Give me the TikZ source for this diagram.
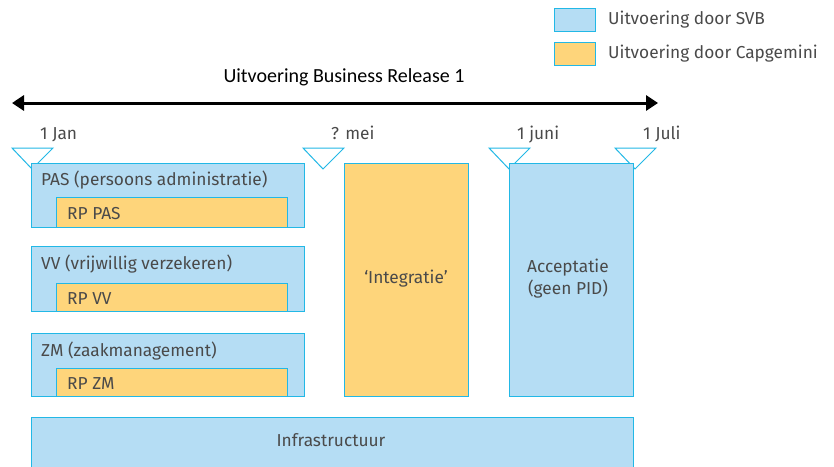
\documentclass[tikz,border=0pt]{standalone}
\usepackage{fontspec}
\setmainfont{Fira Sans}
\newfontfamily\titelfont{Carlito}
\usetikzlibrary{positioning,arrows.meta,calc}

\definecolor{svbblauw}{HTML}{B5DDF4}
\definecolor{svbrand}{HTML}{22B8E6}
\definecolor{cgoranje}{HTML}{FED57B}
\definecolor{tekstgrijs}{HTML}{4A4A4A}

\tikzset{
	svbbox/.style={draw=svbrand,fill=svbblauw,line width=1pt,inner sep=0pt,anchor=north west},
	cgbox/.style={draw=svbrand,fill=cgoranje,line width=1pt,inner sep=0pt,anchor=north west},
	lbl/.style={text=tekstgrijs,font=\fontsize{17.3}{22}\selectfont,inner sep=0pt},
	mijlpaal/.style={draw=svbrand,fill=white,line width=1pt,line join=miter},
}

\begin{document}
\begin{tikzpicture}[x=1pt,y=-1pt]
		\clip (0,0) rectangle (834,466);
		% legenda
		\node[svbbox,minimum width=41pt,minimum height=23pt] (legsvb) at (554,8) {};
		\node[cgbox,minimum width=41pt,minimum height=23pt] (legcg) at (554,42) {};
		\node[lbl,anchor=west,right=12pt of legsvb] (legsvbtxt) {Uitvoering door SVB};
		\node[lbl,anchor=west,right=12pt of legcg] (legcgtxt) {Uitvoering door Capgemini};
		
		% doorlooptijd
		\node[text=black,font=\titelfont\fontsize{20}{24}\selectfont] (titel) at (344,77) {Uitvoering Business Release 1};
		\coordinate (start) at (12,103);
		\coordinate (eind) at (658,103);
		\draw[{Triangle[length=12pt,width=15pt]}-{Triangle[length=12pt,width=15pt]},line width=3pt] (start) -- (eind);
		
		% mijlpalen
		\foreach \x/\datum in {32/1 Jan,323/? mei,509/1 juni,635/1 Juli}{
			\draw[mijlpaal] (\x-20,148) -- (\x+21,148) -- (\x,169) -- cycle;
			\node[lbl,anchor=base west] at (\x+8,139) {\datum};
		}
		
		% applicaties
		\node[svbbox,minimum width=273pt,minimum height=64pt] (pas) at (31,163) {};
		\node[cgbox,minimum width=231pt,minimum height=30pt,anchor=south west] (rppas) at (pas.south west -| 56,0) {};
		\node[lbl,anchor=base west] at (41,185) {PAS (persoons administratie)};
		\node[lbl,anchor=base west] at (67,219) {RP PAS};
		
		\node[svbbox,minimum width=273pt,minimum height=65pt] (vv) at (31,246) {};
		\node[cgbox,minimum width=231pt,minimum height=28pt,anchor=south west] (rpvv) at (vv.south west -| 56,0) {};
		\node[lbl,anchor=base west] at (41,269) {VV (vrijwillig verzekeren)};
		\node[lbl,anchor=base west] at (67,304) {RP VV};
		
		\node[svbbox,minimum width=273pt,minimum height=63pt] (zm) at (31,333) {};
		\node[cgbox,minimum width=231pt,minimum height=28pt,anchor=south west] (rpzm) at (zm.south west -| 56,0) {};
		\node[lbl,anchor=base west] at (41,356) {ZM (zaakmanagement)};
		\node[lbl,anchor=base west] at (67,389) {RP ZM};
		
		% testfasen
		\node[cgbox,minimum width=124pt,minimum height=233pt] (integratie) at (344,163) {};
		\node[lbl] at (406,279) {‘Integratie’};
		\node[svbbox,minimum width=124pt,minimum height=233pt] (acceptatie) at (509,163) {};
		\node[lbl,align=center] at (568,279) {Acceptatie\\(geen PID)};
		
		% infrastructuur
		\node[svbbox,minimum width=602pt,minimum height=60pt] (infra) at (31,417) {};
		\node[lbl] at (331,440) {Infrastructuur};
	\end{tikzpicture}
\end{document}
